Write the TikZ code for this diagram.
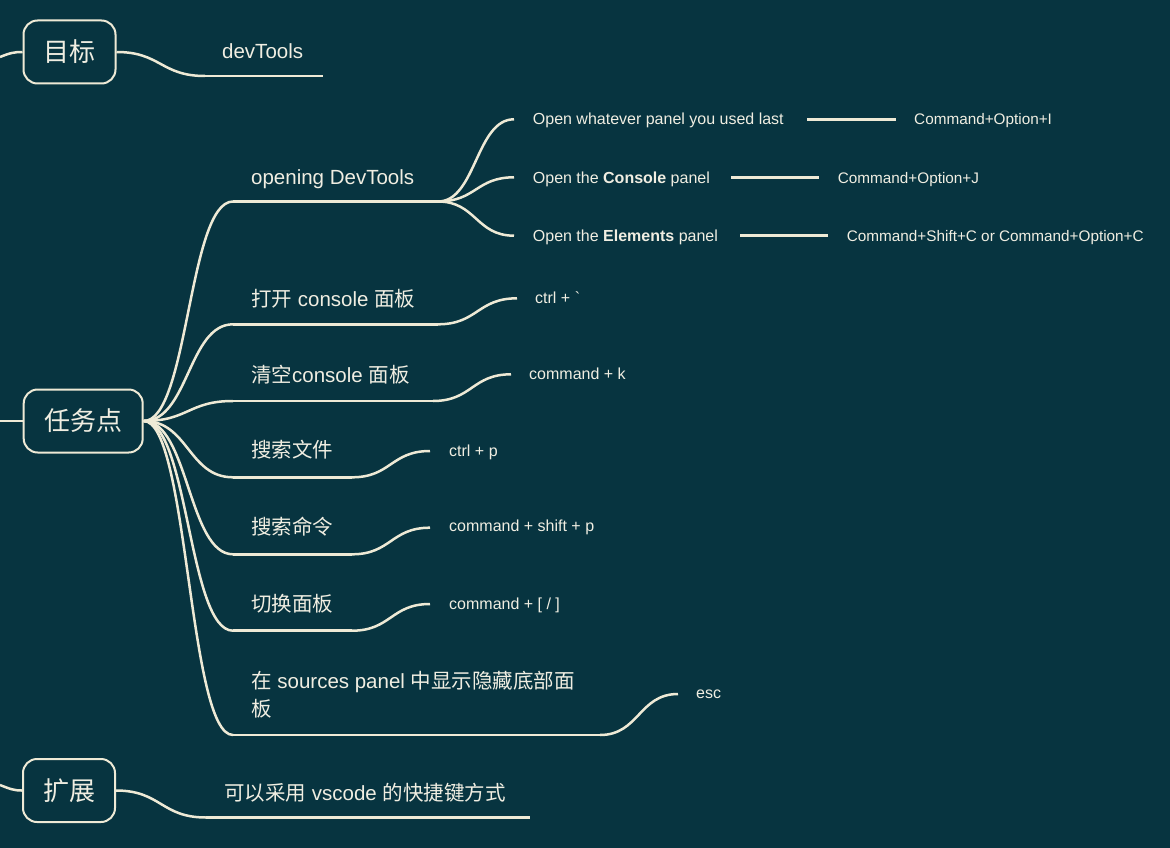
\documentclass[tikz,border=0pt]{standalone}
\usepackage{fontspec}
\setmainfont{Liberation Sans}
\newfontfamily\cjk{Noto Sans CJK SC}
\newfontfamily\plainsans{Liberation Sans}[Ligatures=TeXOff]
\newcommand\zh[1]{{\cjk #1}}
\usetikzlibrary{calc}
\definecolor{bg}{RGB}{7,52,64}
\definecolor{ln}{RGB}{238,234,214}
\definecolor{tx}{RGB}{240,238,226}
\newcommand\sconn[2]{\draw[conn] let \p1=(#1), \p2=(#2) in (\p1) .. controls ($(\x1/2+\x2/2,\y1)$) and ($(\x1/2+\x2/2,\y2)$) .. (\p2);}
\begin{document}
\begin{tikzpicture}[x=1pt,y=-1pt,
  rootbox/.style={draw=ln, line width=2pt, rounded corners=14pt, text=tx, inner sep=0pt, font=\fontsize{26}{30}\selectfont\cjk},
  conn/.style={draw=ln, line width=2.5pt},
  lone/.style={anchor=base west, inner sep=0pt, text=tx, font=\fontsize{20.5}{28}\selectfont},
  ltwo/.style={anchor=base west, inner sep=0pt, text=tx, font=\fontsize{16}{20}\selectfont},
  lkey/.style={ltwo, font=\fontsize{15.3}{20}\selectfont}]
\fill[bg] (0,0) rectangle (1170,848);
\useasboundingbox (0,0) rectangle (1170,848);

% roots
\node[rootbox, minimum width=92pt, minimum height=63pt] (goal) at (69.5,52) {目标};
\node[rootbox, minimum width=119pt, minimum height=63pt] (task) at (83.2,421) {任务点};
\node[rootbox, minimum width=92pt, minimum height=63pt] (ext) at (69,790.5) {扩展};

% left stubs
\coordinate (gl) at (0,57);
\coordinate (tl) at (0,421);
\coordinate (el) at (0,785);
\draw[conn] (gl) .. controls (10,53) and (14,52) .. (goal.west);
\draw[conn] (tl) -- (task.west);
\draw[conn] (el) .. controls (10,789) and (14,790.5) .. (ext.west);

% goal branch
\coordinate (gu1) at (205,76); \coordinate (gu2) at (323,76);
\sconn{goal.east}{gu1}
\draw[conn] (gu1) -- (gu2);
\node[lone] (devtools) at (222,59) {devTools};

% ext branch
\coordinate (eu1) at (206,817.5); \coordinate (eu2) at (530,817.5);
\sconn{ext.east}{eu1}
\draw[conn] (eu1) -- (eu2);
\node[lone] (vscode) at (224,800) {\zh{可以采用} vscode \zh{的快捷键方式}};

% branch 1
\coordinate (b1s) at (233,201.5); \coordinate (b1e) at (438,201.5);
\sconn{task.east}{b1s}
\draw[conn] (b1s) -- (b1e);
\node[lone] (b1t) at (251,185) {opening DevTools};
\coordinate (c1) at (514,119.3); \coordinate (c2) at (514,177.3); \coordinate (c3) at (514,235.7);
\sconn{b1e}{c1} \sconn{b1e}{c2} \sconn{b1e}{c3}
\node[ltwo] (c1t) at (532.7,125) {Open whatever panel you used last};
\node[ltwo] (c2t) at (532.7,183) {Open the \textbf{Console} panel};
\node[ltwo] (c3t) at (532.7,241.5) {Open the \textbf{Elements} panel};
\coordinate (d1s) at (807,119.3); \coordinate (d1e) at (896,119.3);
\coordinate (d2s) at (731,177.3); \coordinate (d2e) at (819,177.3);
\coordinate (d3s) at (740,235.7); \coordinate (d3e) at (828,235.7);
\draw[conn] (d1s) -- (d1e);
\draw[conn] (d2s) -- (d2e);
\draw[conn] (d3s) -- (d3e);
\node[lkey] (k1) at (914,125) {Command+Option+I};
\node[lkey] (k2) at (837.7,183) {Command+Option+J};
\node[lkey] (k3) at (846.7,241.5) {Command+Shift+C or Command+Option+C};

% branch 2
\coordinate (b2s) at (233,324.3); \coordinate (b2e) at (438,324.3); \coordinate (b2c) at (517,298.3);
\sconn{task.east}{b2s}
\draw[conn] (b2s) -- (b2e);
\sconn{b2e}{b2c}
\node[lone] (b2t) at (251,306) {\zh{打开} console \zh{面板}};
\node[ltwo] (b2k) at (535,303) {\plainsans ctrl + `};

% branch 3
\coordinate (b3s) at (233,401); \coordinate (b3e) at (433,401); \coordinate (b3c) at (511,374.3);
\sconn{task.east}{b3s}
\draw[conn] (b3s) -- (b3e);
\sconn{b3e}{b3c}
\node[lone] (b3t) at (251,382) {\zh{清空}console \zh{面板}};
\node[ltwo] (b3k) at (529,379) {command + k};

% branch 4
\coordinate (b4s) at (233,477.3); \coordinate (b4e) at (352,477.3); \coordinate (b4c) at (430,451);
\sconn{task.east}{b4s}
\draw[conn] (b4s) -- (b4e);
\sconn{b4e}{b4c}
\node[lone] (b4t) at (251,457.5) {\zh{搜索文件}};
\node[ltwo] (b4k) at (449,456) {ctrl + p};

% branch 5
\coordinate (b5s) at (233,554.3); \coordinate (b5e) at (352,554.3); \coordinate (b5c) at (430,527.7);
\sconn{task.east}{b5s}
\draw[conn] (b5s) -- (b5e);
\sconn{b5e}{b5c}
\node[lone] (b5t) at (251,534.5) {\zh{搜索命令}};
\node[ltwo] (b5k) at (449,531.7) {command + shift + p};

% branch 6
\coordinate (b6s) at (233,630.7); \coordinate (b6e) at (352,630.7); \coordinate (b6c) at (430,604);
\sconn{task.east}{b6s}
\draw[conn] (b6s) -- (b6e);
\sconn{b6e}{b6c}
\node[lone] (b6t) at (251,611) {\zh{切换面板}};
\node[ltwo] (b6k) at (449,609) {command + [ / ]};

% branch 7
\coordinate (b7s) at (233,735); \coordinate (b7e) at (600,735); \coordinate (b7c) at (678,694);
\sconn{task.east}{b7s}
\draw[conn] (b7s) -- (b7e);
\sconn{b7e}{b7c}
\node[lone] (b7t) at (251,688) {\zh{在} sources panel \zh{中显示隐藏底部面}};
\node[lone] (b7u) at (251,716) {\zh{板}};
\node[ltwo] (b7k) at (696,698) {esc};
\end{tikzpicture}
\end{document}
